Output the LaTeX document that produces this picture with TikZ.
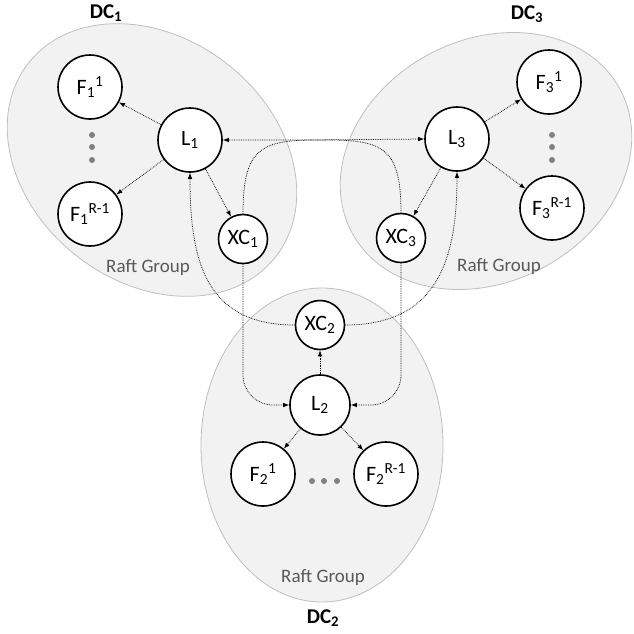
\documentclass[tikz,border=0pt]{standalone}
\usepackage{fontspec}
\setmainfont{Carlito}
\usetikzlibrary{arrows.meta}
\definecolor{grpfill}{HTML}{F2F2F2}
\definecolor{grpline}{HTML}{BFBFBF}
\definecolor{grptext}{HTML}{595959}
\definecolor{dotgray}{HTML}{808080}
\begin{document}
\begin{tikzpicture}[x=1pt,y=-1pt,
  group/.style={fill=grpfill,draw=grpline,line width=0.8pt},
  bignode/.style={circle,draw=black,fill=white,line width=1.6pt,minimum size=64pt,inner sep=0pt,font=\fontsize{22}{26}\selectfont},
  smallnode/.style={circle,draw=black,fill=white,line width=1.6pt,minimum size=49pt,inner sep=0pt,font=\fontsize{22}{26}\selectfont},
  arr/.style={densely dotted,line width=0.75pt,-{Latex[length=6pt,width=4.5pt]}},
  grplabel/.style={text=grptext,font=\fontsize{19}{22}\selectfont},
  dclabel/.style={font=\fontsize{21}{25}\selectfont\bfseries},
  ddot/.style={fill=dotgray,draw=none}
]
\useasboundingbox (0,0) rectangle (634,633);
% groups
\draw[group,rotate around={-38:(152,160)}] (152,160) ellipse [x radius=157, y radius=122];
\draw[group,rotate around={28:(486,161)}] (486,161) ellipse [x radius=152, y radius=121];
\draw[group] (322,445) ellipse [x radius=121, y radius=157];
% group labels
\node[grplabel] (rg1) at (148,268) {Raft Group};
\node[grplabel] (rg3) at (499,267) {Raft Group};
\node[grplabel] (rg2) at (323,578) {Raft Group};
\node[dclabel] (dc1) at (106,13) {DC\textsubscript{1}};
\node[dclabel] (dc3) at (527,14) {DC\textsubscript{3}};
\node[dclabel] (dc2) at (323,618) {DC\textsubscript{2}};
% dots
\foreach \yy in {135,147,160} {\fill[ddot] (92,\yy) circle (3pt); \fill[ddot] (552,\yy) circle (3pt);}
\foreach \xx in {312,324,337} {\fill[ddot] (\xx,481) circle (3pt);}
% nodes
\node[bignode] (F11) at (90,87) {F\textsubscript{1}\textsuperscript{1}};
\node[bignode] (F1R) at (90,214) {F\textsubscript{1}\textsuperscript{R-1}};
\node[bignode] (L1) at (190,140) {L\textsubscript{1}};
\node[smallnode] (XC1) at (243,239) {XC\textsubscript{1}};
\node[bignode] (F31) at (549,82) {F\textsubscript{3}\textsuperscript{1}};
\node[bignode] (F3R) at (552,208) {F\textsubscript{3}\textsuperscript{R-1}};
\node[bignode] (L3) at (457,139) {L\textsubscript{3}};
\node[smallnode] (XC3) at (401,238) {XC\textsubscript{3}};
\node[smallnode] (XC2) at (320,325) {XC\textsubscript{2}};
\node[bignode,minimum size=60pt] (L2) at (320,405) {L\textsubscript{2}};
\node[bignode] (F21) at (263,474) {F\textsubscript{2}\textsuperscript{1}};
\node[bignode] (F2R) at (386,474) {F\textsubscript{2}\textsuperscript{R-1}};
% local arrows
\draw[arr] (L1) -- (F11);
\draw[arr] (L1) -- (F1R);
\draw[arr] (L1) -- (XC1);
\draw[arr] (L3) -- (F31);
\draw[arr] (L3) -- (F3R);
\draw[arr] (L3) -- (XC3);
\draw[arr] (L2) -- (XC2);
\draw[arr] (L2) -- (F21);
\draw[arr] (L2) -- (F2R);
% cross-DC arrows
\draw[arr] (XC1.north) .. controls (243,150) and (260,141) .. (310,140) -- (L3.west);
\draw[arr] (XC3.north) .. controls (401,150) and (384,141) .. (334,140) -- (L1.east);
\draw[arr,rounded corners=30pt] (XC1.south) |- (L2.west);
\draw[arr,rounded corners=30pt] (XC3.south) |- (L2.east);
\draw[arr] (XC2.west) .. controls (205,325) and (190,260) .. (L1.south);
\draw[arr] (XC2.east) .. controls (437,325) and (457,260) .. (L3.south);
\end{tikzpicture}
\end{document}
